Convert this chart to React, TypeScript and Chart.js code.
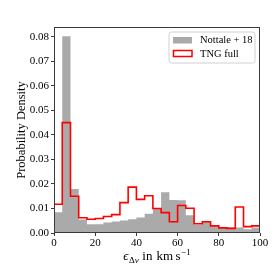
import React, { useEffect, useRef } from "react";
import { Chart, registerables } from "chart.js";

Chart.register(...registerables);

// Histogram bin edges (km/s)
const binEdges = [0, 4, 8, 12, 16, 20, 24, 28, 32, 36, 40, 44, 48, 52, 56, 60, 64, 68, 72, 76, 80, 84, 88, 92, 96, 100];

// Probability density per bin
const nottaleValues = [
  0.0085, 0.0802, 0.0179, 0.0055, 0.0036, 0.0036, 0.0043, 0.0047, 0.0051, 0.0056,
  0.0063, 0.0079, 0.0102, 0.0166, 0.0135, 0.0134, 0.0072, 0.0034, 0.0048, 0.0028,
  0.0022, 0.0022, 0.0022, 0.0015, 0.0022,
];
const tngValues = [
  0.0117, 0.045, 0.015, 0.0062, 0.0056, 0.0059, 0.0067, 0.0075, 0.0124, 0.0187,
  0.0137, 0.0152, 0.01, 0.0083, 0.0046, 0.0112, 0.0101, 0.0038, 0.0046, 0.0029,
  0.0021, 0.0019, 0.0106, 0.0026, 0.0029,
];

const yTickValues = [0, 0.01, 0.02, 0.03, 0.04, 0.05, 0.06, 0.07, 0.08];
const xTickValues = [0, 20, 40, 60, 80, 100];
const seriesLabels = ["Nottale + 18", "TNG full"];
const yAxisLabel = "Probability Density";

const SERIF = '"Liberation Serif", "Times New Roman", serif';

function stepPoints(vals: number[]) {
  const last = binEdges[binEdges.length - 1];
  const pts: { x: number; y: number }[] = [{ x: binEdges[0], y: 0 }];
  vals.forEach((v, i) => pts.push({ x: binEdges[i], y: v }));
  pts.push({ x: last, y: vals[vals.length - 1] });
  pts.push({ x: last, y: 0 });
  return pts;
}

const framePlugin = {
  id: "frame",
  afterDraw(chart: any) {
    const { ctx, chartArea } = chart;
    const { left, right, top, bottom } = chartArea;
    ctx.save();
    ctx.strokeStyle = "#3a3a3a";
    ctx.lineWidth = 1;
    ctx.strokeRect(left + 0.5, top + 0.5, right - left - 1, bottom - top - 1);
    ctx.restore();
  },
};

const xLabelPlugin = {
  id: "xlabel",
  afterDraw(chart: any) {
    const { ctx, chartArea } = chart;
    const cx = (chartArea.left + chartArea.right) / 2;
    const base = 260;
    const parts = [
      { t: "\u03f5", font: `italic 13px ${SERIF}`, dy: 0, gap: 0.5 },
      { t: "\u0394", font: `9px ${SERIF}`, dy: 3, gap: 0 },
      { t: "v", font: `italic 9px ${SERIF}`, dy: 3, gap: 3.5 },
      { t: "in", font: `13px ${SERIF}`, dy: 0, gap: 4 },
      { t: "km", font: `13px ${SERIF}`, dy: 0, gap: 2.5 },
      { t: "s", font: `13px ${SERIF}`, dy: 0, gap: 0.5 },
      { t: "\u22121", font: `9px ${SERIF}`, dy: -5.5, gap: 0 },
    ];
    ctx.save();
    let total = 0;
    const widths = parts.map((p) => {
      ctx.font = p.font;
      const w = ctx.measureText(p.t).width;
      total += w + p.gap;
      return w;
    });
    let x = cx - total / 2;
    ctx.fillStyle = "#000";
    ctx.textBaseline = "alphabetic";
    ctx.textAlign = "left";
    parts.forEach((p, i) => {
      ctx.font = p.font;
      ctx.fillText(p.t, x, base + p.dy);
      x += widths[i] + p.gap;
    });
    ctx.restore();
  },
};

const legendPlugin = {
  id: "customLegend",
  afterDraw(chart: any) {
    const { ctx } = chart;
    const bx = 169, by = 32, bw = 86, bh = 31, r = 2.5;
    ctx.save();
    ctx.beginPath();
    ctx.moveTo(bx + r, by);
    ctx.lineTo(bx + bw - r, by);
    ctx.quadraticCurveTo(bx + bw, by, bx + bw, by + r);
    ctx.lineTo(bx + bw, by + bh - r);
    ctx.quadraticCurveTo(bx + bw, by + bh, bx + bw - r, by + bh);
    ctx.lineTo(bx + r, by + bh);
    ctx.quadraticCurveTo(bx, by + bh, bx, by + bh - r);
    ctx.lineTo(bx, by + r);
    ctx.quadraticCurveTo(bx, by, bx + r, by);
    ctx.closePath();
    ctx.fillStyle = "rgba(255,255,255,0.8)";
    ctx.fill();
    ctx.strokeStyle = "#d0d0d0";
    ctx.lineWidth = 1;
    ctx.stroke();

    // gray patch
    ctx.fillStyle = "#aaaaaa";
    ctx.fillRect(173, 37, 19, 6.5);
    // red outlined patch
    ctx.strokeStyle = "#ff0000";
    ctx.lineWidth = 1.5;
    ctx.strokeRect(173.5, 50.5, 18.5, 6);

    ctx.fillStyle = "#000";
    ctx.font = `10.5px ${SERIF}`;
    ctx.textBaseline = "middle";
    ctx.textAlign = "left";
    ctx.fillText(seriesLabels[0], 200, 40.5);
    ctx.fillText(seriesLabels[1], 200, 54);
    ctx.restore();
  },
};

export default function App() {
  const ref = useRef<HTMLCanvasElement | null>(null);

  useEffect(() => {
    if (!ref.current) return;
    const chart = new Chart(ref.current, {
      type: "line",
      data: {
        datasets: [
          {
            label: seriesLabels[1],
            data: stepPoints(tngValues),
            stepped: "before",
            borderColor: "#ff0000",
            borderWidth: 1.6,
            pointRadius: 0,
            fill: false,
            order: 0,
            borderJoinStyle: "miter",
          } as any,
          {
            label: seriesLabels[0],
            data: stepPoints(nottaleValues),
            stepped: "before",
            borderColor: "rgba(0,0,0,0)",
            borderWidth: 0,
            backgroundColor: "#aaaaaa",
            pointRadius: 0,
            fill: "origin",
            order: 1,
          } as any,
        ],
      },
      options: {
        animation: false,
        responsive: false,
        maintainAspectRatio: false,
        layout: { padding: { left: 0, right: 14, top: 27, bottom: 0 } },
        plugins: {
          legend: { display: false },
          tooltip: { enabled: false },
        },
        scales: {
          x: {
            type: "linear",
            min: 0,
            max: 100,
            afterBuildTicks: (s: any) => {
              s.ticks = xTickValues.map((v) => ({ value: v }));
            },
            afterFit: (s: any) => {
              s.height = 41;
            },
            ticks: {
              color: "#000",
              font: { family: SERIF, size: 11 },
              padding: 1,
              maxRotation: 0,
              callback: (v: any) => String(v),
            },
            grid: {
              drawOnChartArea: false,
              drawTicks: true,
              tickLength: 3,
              color: "#3a3a3a",
            },
            border: { display: false },
          },
          y: {
            type: "linear",
            min: 0,
            max: 0.084,
            afterBuildTicks: (s: any) => {
              s.ticks = yTickValues.map((v) => ({ value: v }));
            },
            afterFit: (s: any) => {
              s.width = 54;
            },
            ticks: {
              color: "#000",
              font: { family: SERIF, size: 11 },
              padding: 2,
              callback: (v: any) => Number(v).toFixed(2),
            },
            grid: {
              drawOnChartArea: false,
              drawTicks: true,
              tickLength: 3,
              color: "#3a3a3a",
            },
            border: { display: false },
            title: {
              display: true,
              text: yAxisLabel,
              color: "#000",
              font: { family: SERIF, size: 12.5 },
              padding: { top: 14.5, bottom: 0 },
            },
          },
        },
      },
      plugins: [framePlugin, xLabelPlugin, legendPlugin],
    });
    return () => chart.destroy();
  }, []);

  return (
    <div style={{ position: "fixed", left: 0, top: 0, width: 274, height: 274, background: "#fff" }}>
      <canvas ref={ref} width={274} height={274} style={{ width: 274, height: 274, display: "block" }} />
    </div>
  );
}
